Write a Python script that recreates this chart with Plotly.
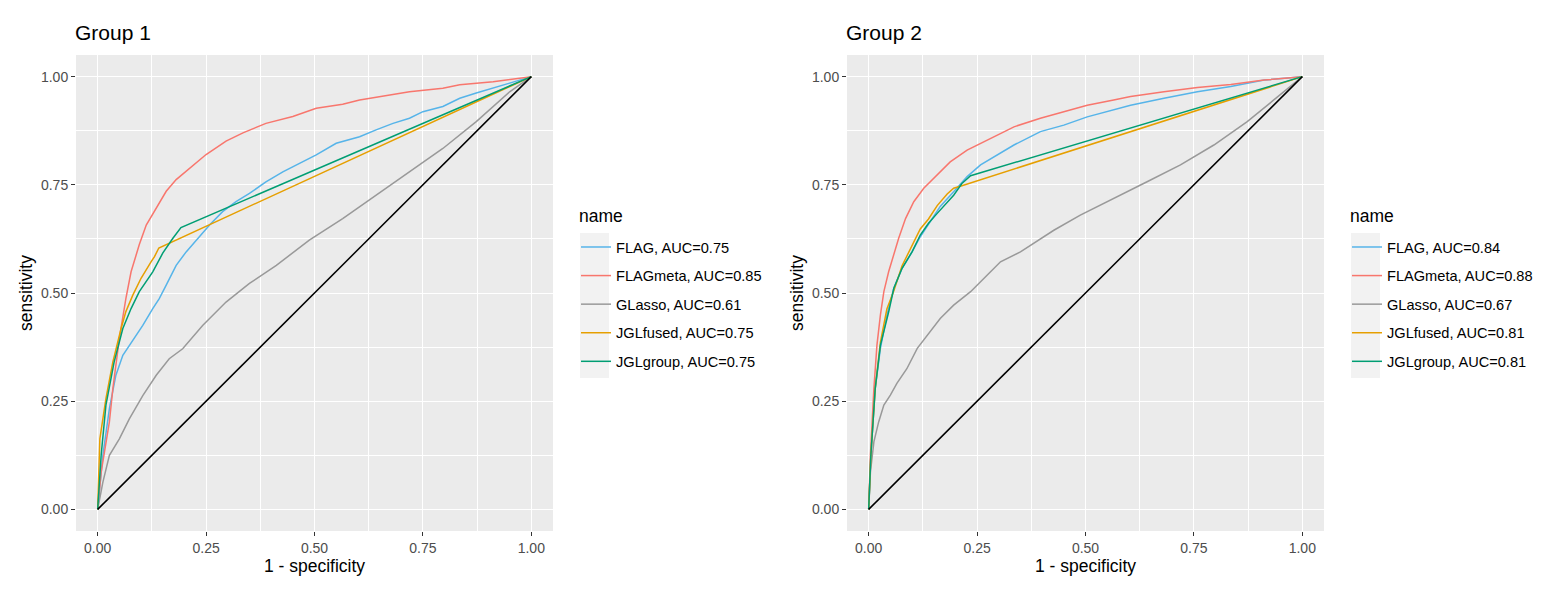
import plotly.graph_objects as go

#############
# DATA
#############
# ROC curves (x = 1 - specificity, y = sensitivity).
method_names = ['FLAG', 'FLAGmeta', 'GLasso', 'JGLfused', 'JGLgroup']
auc_group1 = ['0.75', '0.85', '0.61', '0.75', '0.75']
auc_group2 = ['0.84', '0.88', '0.67', '0.81', '0.81']
method_colors = ['#56B4E9', '#F8766D', '#999999', '#E69F00', '#009E73']

# Group 1
g1_flag_x = [0, 0.012, 0.027, 0.042, 0.058, 0.073, 0.088, 0.104, 0.127, 0.142, 0.158, 0.181, 0.204, 0.235, 0.258,
             0.288, 0.319, 0.35, 0.388, 0.427, 0.473, 0.504, 0.55, 0.604, 0.642, 0.681, 0.719, 0.75, 0.796, 0.835,
             0.873, 0.912, 0.95, 1]
g1_flag_y = [0, 0.125, 0.233, 0.31, 0.356, 0.379, 0.402, 0.425, 0.464, 0.487, 0.518, 0.564, 0.595, 0.63, 0.657,
             0.688, 0.711, 0.73, 0.757, 0.78, 0.804, 0.819, 0.846, 0.861, 0.877, 0.892, 0.904, 0.919, 0.931, 0.95,
             0.962, 0.973, 0.985, 1]
g1_meta_x = [0, 0.008, 0.027, 0.035, 0.05, 0.065, 0.077, 0.088, 0.096, 0.112, 0.135, 0.158, 0.181, 0.212, 0.25,
             0.296, 0.335, 0.388, 0.45, 0.504, 0.565, 0.604, 0.681, 0.719, 0.796, 0.835, 0.912, 1]
g1_meta_y = [0, 0.086, 0.202, 0.279, 0.395, 0.487, 0.549, 0.589, 0.612, 0.657, 0.697, 0.735, 0.762, 0.789, 0.82,
             0.851, 0.87, 0.892, 0.908, 0.927, 0.936, 0.946, 0.958, 0.965, 0.973, 0.981, 0.988, 1]
g1_glasso_x = [0, 0.012, 0.027, 0.05, 0.073, 0.104, 0.135, 0.165, 0.196, 0.242, 0.296, 0.35, 0.412, 0.488, 0.565,
               0.642, 0.719, 0.796, 0.873, 0.95, 1]
g1_glasso_y = [0, 0.063, 0.125, 0.163, 0.209, 0.263, 0.31, 0.348, 0.371, 0.425, 0.479, 0.522, 0.564, 0.622, 0.672,
               0.726, 0.78, 0.834, 0.896, 0.965, 1]
g1_fused_x = [0, 0.005, 0.019, 0.035, 0.054, 0.065, 0.081, 0.1, 0.123, 0.131, 0.141, 1]
g1_fused_y = [0, 0.163, 0.256, 0.341, 0.418, 0.457, 0.495, 0.534, 0.572, 0.584, 0.604, 1]
g1_group_x = [0, 0.008, 0.019, 0.038, 0.058, 0.077, 0.096, 0.127, 0.15, 0.173, 0.192, 1]
g1_group_y = [0, 0.125, 0.241, 0.341, 0.418, 0.464, 0.503, 0.549, 0.592, 0.626, 0.651, 1]

# Group 2
g2_flag_x = [0, 0.005, 0.015, 0.027, 0.042, 0.058, 0.077, 0.1, 0.119, 0.142, 0.165, 0.196, 0.227, 0.258, 0.296,
             0.335, 0.396, 0.45, 0.504, 0.565, 0.604, 0.681, 0.758, 0.835, 0.912, 1]
g2_flag_y = [0, 0.125, 0.279, 0.372, 0.449, 0.511, 0.557, 0.595, 0.63, 0.665, 0.7, 0.734, 0.769, 0.796, 0.819,
             0.842, 0.873, 0.888, 0.907, 0.923, 0.934, 0.95, 0.965, 0.977, 0.992, 1]
g2_meta_x = [0, 0.004, 0.012, 0.019, 0.027, 0.035, 0.046, 0.058, 0.069, 0.085, 0.104, 0.127, 0.158, 0.188, 0.227,
             0.258, 0.296, 0.335, 0.396, 0.45, 0.504, 0.565, 0.604, 0.681, 0.758, 0.835, 0.912, 1]
g2_meta_y = [0, 0.125, 0.279, 0.379, 0.449, 0.503, 0.549, 0.588, 0.626, 0.672, 0.711, 0.742, 0.772, 0.803, 0.83,
             0.846, 0.865, 0.884, 0.904, 0.919, 0.934, 0.946, 0.954, 0.965, 0.975, 0.982, 0.992, 1]
g2_glasso_x = [0, 0.004, 0.012, 0.023, 0.035, 0.05, 0.065, 0.088, 0.112, 0.135, 0.165, 0.196, 0.235, 0.273, 0.304,
               0.35, 0.396, 0.427, 0.488, 0.565, 0.642, 0.719, 0.796, 0.873, 0.95, 1]
g2_glasso_y = [0, 0.086, 0.156, 0.202, 0.241, 0.264, 0.291, 0.325, 0.372, 0.402, 0.441, 0.472, 0.503, 0.541, 0.572,
               0.595, 0.626, 0.645, 0.68, 0.718, 0.757, 0.796, 0.842, 0.896, 0.958, 1]
g2_fused_x = [0, 0.005, 0.015, 0.027, 0.042, 0.058, 0.077, 0.1, 0.119, 0.138, 0.158, 0.181, 0.196, 0.215, 1]
g2_fused_y = [0, 0.125, 0.279, 0.386, 0.463, 0.505, 0.563, 0.609, 0.648, 0.671, 0.702, 0.729, 0.742, 0.748, 1]
g2_group_x = [0, 0.005, 0.015, 0.027, 0.046, 0.058, 0.077, 0.1, 0.119, 0.138, 0.158, 0.196, 0.215, 0.235, 1]
g2_group_y = [0, 0.125, 0.279, 0.379, 0.456, 0.511, 0.557, 0.595, 0.634, 0.661, 0.684, 0.726, 0.753, 0.771, 1]

diag_x = [0, 1]
diag_y = [0, 1]

tick_vals = [0, 0.25, 0.5, 0.75, 1]
tick_text = ['0.00', '0.25', '0.50', '0.75', '1.00']

###########
# PLOT DATA
###########
FONT = 'Liberation Sans, Arial, sans-serif'
W, H = 1560, 600
OFF = 8  # the page body adds an 8px margin, so page pixels are shifted by this much


def px(x):
    return (x - OFF) / W


def py(y):
    return 1 - (y - OFF) / H


fig = go.Figure()

groups = [
    (list(zip([g1_flag_x, g1_meta_x, g1_glasso_x, g1_fused_x, g1_group_x],
              [g1_flag_y, g1_meta_y, g1_glasso_y, g1_fused_y, g1_group_y])), auc_group1, 'x', 'y', 'legend'),
    (list(zip([g2_flag_x, g2_meta_x, g2_glasso_x, g2_fused_x, g2_group_x],
              [g2_flag_y, g2_meta_y, g2_glasso_y, g2_fused_y, g2_group_y])), auc_group2, 'x2', 'y2', 'legend2'),
]

for curves, aucs, xa, ya, leg in groups:
    for i, (cx, cy) in enumerate(curves):
        fig.add_trace(go.Scatter(x=cx, y=cy, mode='lines',
                                 line=dict(color=method_colors[i], width=1.5),
                                 name=method_names[i] + ', AUC=' + aucs[i],
                                 legendgroup=leg + method_names[i],
                                 xaxis=xa, yaxis=ya, legend=leg))
    fig.add_trace(go.Scatter(x=diag_x, y=diag_y, mode='lines',
                             line=dict(color='black', width=1.5),
                             showlegend=False, xaxis=xa, yaxis=ya))


# Axis styling, ggplot-like grey panel with white grid.
def axis_style(domain, title, anchor):
    return dict(domain=domain, range=[-0.05, 1.05], anchor=anchor,
                tickvals=tick_vals, ticktext=tick_text,
                ticks='outside', ticklen=4, tickwidth=1, tickcolor='#333333',
                tickfont=dict(family=FONT, size=14, color='#4D4D4D'),
                showgrid=True, gridcolor='white', gridwidth=1.4,
                minor=dict(tickvals=[0.125, 0.375, 0.625, 0.875], showgrid=True,
                           gridcolor='white', gridwidth=0.7, ticks=''),
                zeroline=False, showline=False,
                title=dict(text=title, font=dict(family=FONT, size=17.5, color='black'), standoff=3),
                fixedrange=True)


ydom = [py(531), py(55)]


def legend_style(x):
    return dict(x=px(x), y=py(231), xanchor='left', yanchor='top',
                font=dict(family=FONT, size=14.6, color='black'),
                bgcolor='rgba(0,0,0,0)', tracegroupgap=6.6, itemwidth=30)


fig.update_layout(
    width=W, height=H,
    paper_bgcolor='white', plot_bgcolor='#EBEBEB',
    margin=dict(l=0, r=0, t=0, b=0),
    font=dict(family=FONT),
    xaxis=axis_style([px(76), px(553)], '1 - specificity', 'y'),
    yaxis=axis_style(ydom, 'sensitivity', 'x'),
    xaxis2=axis_style([px(847), px(1324)], '1 - specificity', 'y2'),
    yaxis2=axis_style(ydom, 'sensitivity', 'x2'),
    legend=legend_style(576),
    legend2=legend_style(1347),
    showlegend=True,
)

# Panel titles and legend titles.
for txt, x in [('Group 1', 76), ('Group 2', 847)]:
    fig.add_annotation(text=txt, x=px(x - 3), y=py(32.5), xref='paper', yref='paper',
                       xanchor='left', yanchor='middle', showarrow=False,
                       font=dict(family=FONT, size=21, color='black'))
for x in [580, 1351]:
    fig.add_annotation(text='name', x=px(x - 3), y=py(216), xref='paper', yref='paper',
                       xanchor='left', yanchor='middle', showarrow=False,
                       font=dict(family=FONT, size=17.5, color='black'))

# Grey background of legend keys.
for x in [580, 1351]:
    fig.add_shape(type='rect', xref='paper', yref='paper', layer='below',
                  x0=px(x), x1=px(x + 29), y0=py(378), y1=py(233),
                  fillcolor='#F2F2F2', line=dict(width=0))

fig.write_html('out.html')
